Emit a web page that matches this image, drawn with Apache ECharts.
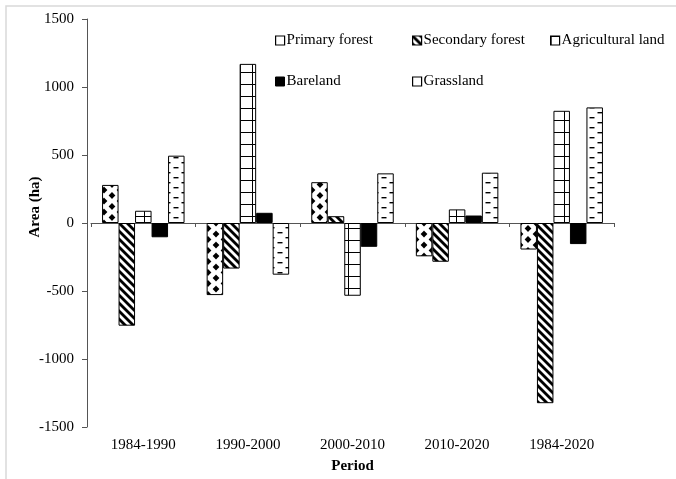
<!DOCTYPE html>
<html>
<head>
<meta charset="utf-8">
<script src="https://cdn.jsdelivr.net/npm/echarts@6/dist/echarts.min.js"></script>
<style>html,body{margin:0;padding:0;background:#fff}#c{width:676px;height:479px}</style>
</head>
<body>
<div id="c"></div>
<script>
const categories = ['1984-1990', '1990-2000', '2000-2010', '2010-2020', '1984-2020'];
const seriesNames = ['Primary forest', 'Secondary forest', 'Agricultural land', 'Bareland', 'Grassland'];
const primaryForest = [280, -530, 300, -245, -195];
const secondaryForest = [-755, -335, 50, -285, -1325];
const agriculturalLand = [90, 1170, -535, 100, 825];
const bareland = [-105, 75, -175, 55, -155];
const grassland = [495, -380, 365, 370, 850];
const yMin = -1500, yMax = 1500, yInterval = 500;

function tile(w, h, draw) {
  const c = document.createElement('canvas');
  c.width = w; c.height = h;
  const ctx = c.getContext('2d');
  ctx.fillStyle = '#fff'; ctx.fillRect(0, 0, w, h);
  ctx.fillStyle = '#000'; ctx.strokeStyle = '#000';
  draw(ctx, w, h);
  return { image: c, repeat: 'repeat' };
}
const diamondPat = tile(16, 11, (ctx) => {
  const r = 3.4;
  [[8, 3], [0, 8.5], [16, 8.5], [0, -2.5], [16, -2.5], [8, 14]].forEach(([x, y]) => {
    ctx.beginPath();
    ctx.moveTo(x, y - r); ctx.lineTo(x + r, y); ctx.lineTo(x, y + r); ctx.lineTo(x - r, y);
    ctx.closePath(); ctx.fill();
  });
});
const stripePat = tile(8, 8, (ctx) => {
  ctx.lineWidth = 2.8;
  for (let x0 = -8; x0 <= 8; x0 += 8) {
    ctx.beginPath(); ctx.moveTo(x0 - 1, -1); ctx.lineTo(x0 + 9, 9); ctx.stroke();
  }
});
const gridPat = tile(12, 12, (ctx) => {
  ctx.lineWidth = 1;
  ctx.beginPath(); ctx.moveTo(0, 0.5); ctx.lineTo(12, 0.5); ctx.stroke();
  ctx.beginPath(); ctx.moveTo(0.5, 0); ctx.lineTo(0.5, 12); ctx.stroke();
});
const dashPat = tile(16, 10, (ctx) => {
  ctx.fillRect(5.5, 2, 5, 1.4);
  ctx.fillRect(13.5, 7, 2.5, 1.4);
  ctx.fillRect(0, 7, 2.5, 1.4);
});

const fills = [diamondPat, stripePat, gridPat, '#000', dashPat];
const values = [primaryForest, secondaryForest, agriculturalLand, bareland, grassland];
const font = 'Liberation Serif';
const axisColor = '#555';

const series = seriesNames.map((name, i) => ({
  name: name,
  type: 'bar',
  data: values[i],
  barWidth: 16.5,
  barGap: '0%',
  itemStyle: { color: fills[i], borderColor: '#000', borderWidth: 1 },
  emphasis: { disabled: true },
  animation: false
}));

const legendIconStyle = [
  { color: '#fff', borderColor: '#000', borderWidth: 1.2 },
  { color: stripePat, borderColor: '#000', borderWidth: 1.2 },
  { color: gridPat, borderColor: '#000', borderWidth: 1.2 },
  { color: '#000', borderColor: '#000', borderWidth: 1 },
  { color: '#fff', borderColor: '#000', borderWidth: 1.2 }
];
const legendPos = [[275, 33], [412, 33], [550, 33], [275, 74], [412, 74]];
const legends = seriesNames.map((name, i) => ({
  data: [{ name: name, itemStyle: legendIconStyle[i] }],
  left: legendPos[i][0], top: legendPos[i][1],
  padding: 0, icon: 'rect', itemWidth: 9, itemHeight: 9,
  textStyle: { fontFamily: font, fontSize: 15, color: '#000', padding: [0, 0, 0, -3] },
  selectedMode: false
}));

const chart = echarts.init(document.getElementById('c'), null, { renderer: 'canvas' });
chart.setOption({
  animation: false,
  backgroundColor: '#fff',
  grid: { left: 91, right: 62, top: 19, bottom: 48, containLabel: false },
  legend: legends,
  xAxis: [
    {
      type: 'category', data: categories,
      axisLine: { onZero: true, lineStyle: { color: axisColor, width: 1 } },
      axisTick: { show: true, length: 4, lineStyle: { color: axisColor } },
      axisLabel: { show: false },
      splitLine: { show: false }
    },
    {
      type: 'category', data: categories, position: 'bottom',
      axisLine: { show: false, onZero: false },
      axisTick: { show: false },
      axisLabel: { show: true, margin: 11, fontFamily: font, fontSize: 15, color: '#000' },
      name: 'Period', nameLocation: 'middle', nameGap: 32,
      nameTextStyle: { fontFamily: font, fontSize: 15, fontWeight: 'bold', color: '#000' }
    }
  ],
  yAxis: {
    type: 'value', min: yMin, max: yMax, interval: yInterval, offset: 4,
    axisLine: { show: true, lineStyle: { color: axisColor, width: 1 } },
    axisTick: { show: true, length: 5, lineStyle: { color: axisColor } },
    axisLabel: { margin: 13, fontFamily: font, fontSize: 15, color: '#000', formatter: (v) => String(v) },
    splitLine: { show: false }
  },
  series: series,
  graphic: [
    {
      type: 'polyline', silent: true,
      shape: { points: [[6, 479], [6, 6], [676, 6]] },
      style: { stroke: '#d9d9d9', lineWidth: 1.5, fill: null }
    },
    {
      type: 'text', silent: true, x: 35, y: 207, rotation: Math.PI / 2,
      style: { text: 'Area (ha)', font: 'bold 15px "Liberation Serif"', fill: '#000', align: 'center', verticalAlign: 'middle' }
    }
  ]
});
</script>
</body>
</html>
